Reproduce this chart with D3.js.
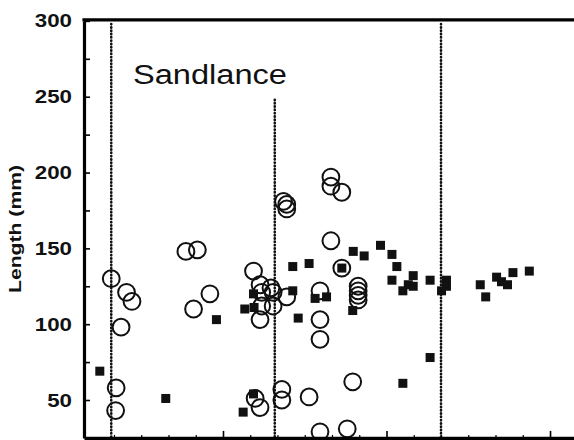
<!DOCTYPE html>
<html>
<head>
<meta charset="utf-8">
<script src="https://cdn.jsdelivr.net/npm/d3@7"></script>
<style>
  html, body { margin: 0; padding: 0; background: #fff; }
  svg { display: block; }
</style>
</head>
<body>
<div id="app"></div>
<script>
// open circles: day, length (mm)
const circleDay = [39.5, 42.3, 43.3, 41.3, 40.4, 40.3,
  53.2, 55.3, 54.6, 57.6,
  65.6, 66.8, 68.8, 67.1, 69.2, 71.7, 67.1, 69.2, 66.8,
  71.1, 71.7, 71.7,
  79.8, 79.8, 81.8, 79.8, 81.8,
  84.8, 84.8, 84.8, 84.8,
  77.8, 77.8, 77.8,
  83.8, 77.8, 82.8, 75.8, 70.8, 70.8, 65.9, 66.8]
const circleLen = [130, 121, 115, 98, 58, 43,
  148, 149, 110, 120,
  135, 126, 124, 121, 121, 118, 112, 112, 103,
  181, 179, 176,
  197, 191, 187, 155, 137,
  125, 122, 119, 116,
  122, 103, 90,
  62, 29, 31, 52, 57, 50, 51, 45]

// filled squares
const squareDay = [37.4, 49.5, 58.8, 65.6, 64.0, 65.7,
  72.8, 75.8, 72.8, 73.8, 76.9, 79.0, 81.8,
  83.9, 85.9, 88.9, 91.0, 91.9, 91.0, 93.0, 94.0, 94.9, 94.9,
  98.0, 100.1, 101.0, 101.0,
  107.2, 108.2, 110.2, 111.1, 112.2, 113.2, 116.2,
  83.8, 98.0, 93.0, 65.6, 63.7]
const squareLen = [69, 51, 103, 120, 110, 111,
  138, 140, 122, 104, 117, 118, 137,
  148, 145, 152, 146, 138, 129, 122, 126, 132, 125,
  129, 122, 129, 125,
  126, 118, 131, 128, 126, 134, 135,
  109, 78, 61, 54, 42]

// dotted reference lines
const refDay = [39.5, 69.5, 100]
const refTop = [298, 248, 298]

const yMajor = [50, 100, 150, 200, 250, 300]
const yMinor = [75, 125, 175, 225, 275]
const xMajor = [60, 90, 120]

const W = 574, H = 440

const x = d3.scaleLinear().domain([34.5, 124.4]).range([84, 574])
const y = d3.scaleLinear().domain([25, 300]).range([437.9, 20.9])

const svg = d3.create('svg')
  .attr('width', W)
  .attr('height', H)
  .style('font-family', '"Liberation Sans", Arial, sans-serif')

// dotted lines
svg.append('g')
  .selectAll('line')
  .data(refDay.map((d, i) => [d, refTop[i]]))
  .join('line')
  .attr('x1', d => x(d[0]))
  .attr('x2', d => x(d[0]))
  .attr('y1', d => y(d[1]))
  .attr('y2', y(25))
  .attr('stroke', '#111')
  .attr('stroke-width', 2.6)
  .attr('stroke-linecap', 'round')
  .attr('stroke-dasharray', '0.4,2.9')

// circles
svg.append('g')
  .selectAll('circle')
  .data(circleDay.map((d, i) => [d, circleLen[i]]))
  .join('circle')
  .attr('cx', d => x(d[0]))
  .attr('cy', d => y(d[1]))
  .attr('r', 8.4)
  .attr('fill', 'none')
  .attr('stroke', '#111')
  .attr('stroke-width', 2)

// squares
const sq = 9
svg.append('g')
  .selectAll('rect')
  .data(squareDay.map((d, i) => [d, squareLen[i]]))
  .join('rect')
  .attr('x', d => x(d[0]) - sq / 2)
  .attr('y', d => y(d[1]) - sq / 2)
  .attr('width', sq)
  .attr('height', sq)
  .attr('fill', '#111')

// left axis
const yAxis = svg.append('g')
  .attr('transform', `translate(${x.range()[0]},0)`)
  .call(d3.axisLeft(y).tickValues(yMajor).tickSize(-6).tickSizeOuter(0).tickPadding(12))
yAxis.select('.domain').attr('stroke-width', 3.2)
yAxis.selectAll('.tick line').attr('stroke-width', 1.6)
yAxis.selectAll('.tick text')
  .attr('font-size', 19)
  .attr('font-weight', 'bold')
  .attr('fill', '#111')
  .attr('textLength', d => String(d).length * 12.4)
  .attr('lengthAdjust', 'spacingAndGlyphs')

const yMin = svg.append('g')
  .attr('transform', `translate(${x.range()[0]},0)`)
  .call(d3.axisLeft(y).tickValues(yMinor).tickSize(-6).tickFormat(''))
yMin.select('.domain').remove()
yMin.selectAll('.tick line').attr('stroke-width', 1.6)

// bottom axis
const xMinorVals = d3.range(40, 124, 5).filter(v => !xMajor.includes(v))
const xAxis = svg.append('g')
  .attr('transform', `translate(0,${y(25)})`)
  .call(d3.axisBottom(x).tickValues(xMinorVals).tickSize(-3).tickSizeOuter(0).tickFormat(''))
xAxis.select('.domain').attr('stroke-width', 3.5)
xAxis.selectAll('.tick line').attr('stroke-width', 1.2)

const xMaj = svg.append('g')
  .attr('transform', `translate(0,${y(25)})`)
  .call(d3.axisBottom(x).tickValues(xMajor).tickSize(-7).tickFormat(''))
xMaj.select('.domain').remove()
xMaj.selectAll('.tick line').attr('stroke-width', 1.6)

// top border
svg.append('line')
  .attr('x1', x.range()[0] - 1.6)
  .attr('x2', W)
  .attr('y1', y(300) - 1)
  .attr('y2', y(300) - 1)
  .attr('stroke', '#000')
  .attr('stroke-width', 3.2)

// y title
svg.append('text')
  .attr('transform', 'translate(21,229) rotate(-90)')
  .attr('text-anchor', 'middle')
  .attr('font-size', 17)
  .attr('font-weight', 'bold')
  .attr('fill', '#111')
  .attr('textLength', 128)
  .attr('lengthAdjust', 'spacingAndGlyphs')
  .text('Length (mm)')

// panel title
svg.append('text')
  .attr('x', 133)
  .attr('y', 84)
  .attr('font-size', 27)
  .attr('fill', '#111')
  .attr('textLength', 154)
  .attr('lengthAdjust', 'spacingAndGlyphs')
  .text('Sandlance')

d3.select('#app').append(() => svg.node())
</script>
</body>
</html>
